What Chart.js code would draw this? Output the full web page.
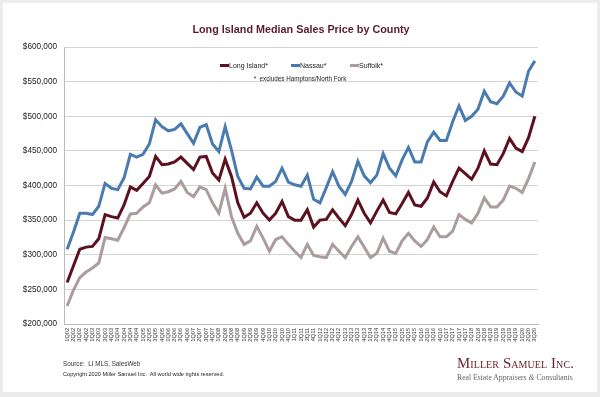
<!DOCTYPE html>
<html>
<head>
<meta charset="utf-8">
<script src="https://cdn.jsdelivr.net/npm/chart.js@4"></script>
<style>
  body { margin: 0; background: #ececec; font-family: "Liberation Sans", Arial, sans-serif; }
  #panel { position: absolute; left: 3px; top: 3px; width: 594px; height: 389px; background: #fff; }
  #wrap { position: absolute; left: 0; top: 0; width: 600px; height: 397px; }
  .abs { position: absolute; white-space: nowrap; }
  #title { left: 0; width: 602px; top: 23px; text-align: center; font-weight: bold; font-size: 10.8px; color: #5a1b2c; }
  .leg { font-size: 7px; color: #222; top: 62px; }
  .sw { display: inline-block; width: 9px; height: 3px; vertical-align: middle; margin-right: 0; position: relative; top: -1px; }
  #note { left: 0; width: 600px; top: 75px; text-align: center; font-size: 6.3px; color: #222; }
  #source { left: 63px; top: 360px; font-size: 6.3px; color: #333; }
  #copy { left: 63px; top: 371px; font-size: 5.6px; color: #222; }
  #logo { left: 457px; top: 355px; font-family: "Liberation Serif", "DejaVu Serif", serif; font-variant: small-caps; font-size: 14.8px; color: #6b1e2e; letter-spacing: 0.1px; }
  #tag { left: 457px; top: 373px; font-family: "Liberation Serif", "DejaVu Serif", serif; font-size: 7.7px; color: #666; }
</style>
</head>
<body>
<div id="panel"></div>
<div id="wrap"><canvas id="chart" width="600" height="397"></canvas></div>
<div class="abs" id="title">Long Island Median Sales Price by County</div>
<div class="abs leg" style="left:220px"><span class="sw" style="background:#5c1020"></span>Long Island*</div>
<div class="abs leg" style="left:291px"><span class="sw" style="background:#4a7bb0"></span>Nassau*</div>
<div class="abs leg" style="left:350px"><span class="sw" style="background:#ab9c9e"></span>Suffolk*</div>
<div class="abs" id="note">*&nbsp; excludes Hamptons/North Fork</div>
<div class="abs" id="source">Source:&nbsp; LI MLS, SalesWeb</div>
<div class="abs" id="copy">Copyright 2020 Miller Samuel Inc.&nbsp; All world wide rights reserved.</div>
<div class="abs" id="logo">Miller Samuel Inc.</div>
<div class="abs" id="tag">Real Estate Appraisers <i>&amp;</i> Consultants</div>
<script>
// quarters 1Q02 .. 3Q20
const quarters = [];
for (let y = 2; y <= 20; y++) {
  for (let q = 1; q <= 4; q++) {
    if (y === 20 && q > 3) break;
    quarters.push(q + 'Q' + String(y).padStart(2, '0'));
  }
}

// median sales price, in thousands
const longIsland = [260, 284, 308, 311, 312, 323, 358, 355, 353, 372, 398, 393, 403, 413, 442, 430, 431, 434, 441,
  432, 423, 441, 442, 418, 408, 438, 413, 375, 354, 360, 375, 360, 350, 360, 377, 355, 350, 350, 365, 340, 350,
  351, 365, 353, 342, 358, 379, 360, 346, 363, 379, 361, 359, 374, 390, 372, 370, 382, 405, 391, 385, 406, 425,
  417, 409, 425, 450, 431, 430, 446, 468, 454, 449, 469, 500];
const nassau = [308, 333, 360, 360, 358, 370, 403, 396, 394, 411, 445, 441, 445, 460, 495, 485, 479, 481, 489,
  475, 461, 484, 488, 460, 449, 485, 451, 413, 396, 395, 412, 399, 399, 406, 425, 405, 401, 399, 415, 380, 375,
  397, 420, 399, 387, 406, 435, 414, 404, 415, 446, 425, 414, 437, 455, 434, 434, 463, 477, 465, 465, 492, 515,
  494, 500, 510, 536, 521, 518, 529, 548, 535, 529, 565, 580];
const suffolk = [226, 249, 267, 275, 281, 288, 325, 323, 321, 339, 359, 360, 369, 375, 401, 389, 391, 395, 406,
  390, 384, 398, 394, 375, 360, 396, 355, 331, 315, 320, 341, 324, 305, 322, 326, 315, 305, 296, 315, 299, 297,
  296, 315, 305, 296, 312, 326, 311, 296, 302, 324, 305, 302, 320, 331, 320, 312, 322, 340, 326, 326, 334, 358,
  351, 346, 360, 382, 369, 369, 379, 399, 396, 390, 410, 434];

function series(label, values, color) {
  return {
    label,
    data: values.map(v => v * 1000),
    borderColor: color,
    backgroundColor: color,
    borderWidth: 3,
    pointRadius: 0,
    fill: false,
    tension: 0
  };
}

new Chart(document.getElementById('chart'), {
  type: 'line',
  data: {
    labels: quarters,
    datasets: [
      series('Suffolk*', suffolk, '#ab9c9e'),
      series('Long Island*', longIsland, '#5c1020'),
      series('Nassau*', nassau, '#4a7bb0')
    ]
  },
  options: {
    responsive: false,
    animation: false,
    layout: { padding: { left: 0, right: 62, top: 47, bottom: 0 } },
    plugins: { legend: { display: false }, tooltip: { enabled: false } },
    scales: {
      x: {
        offset: true,
        grid: { display: false, drawTicks: true, tickLength: 3, color: '#999' },
        border: { color: '#bbb' },
        ticks: {
          autoSkip: false, maxRotation: 90, minRotation: 90, padding: 1,
          font: { family: 'Liberation Sans', size: 5.6 }, color: '#333'
        },
        afterFit: s => { s.height = 73; }
      },
      y: {
        min: 200000, max: 600000,
        grid: { color: '#d4d4d4', drawTicks: false },
        border: { color: '#bbb' },
        ticks: {
          stepSize: 50000, padding: 7,
          font: { family: 'Liberation Sans', size: 8.2 }, color: '#222',
          callback: v => '$' + v.toLocaleString('en-US')
        },
        afterFit: s => { s.width = 64; }
      }
    }
  }
});
</script>
</body>
</html>
